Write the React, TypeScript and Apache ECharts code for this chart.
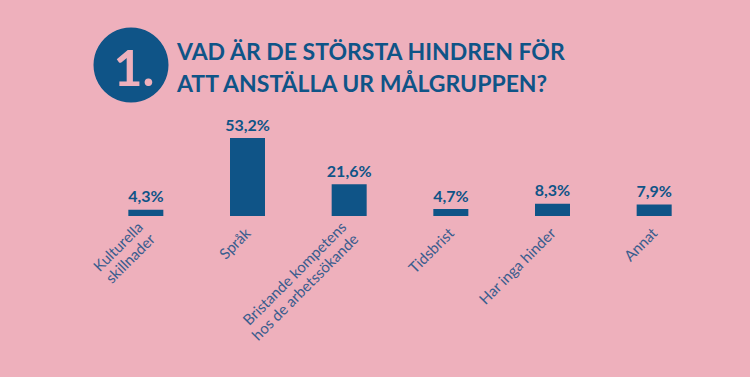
import React, { useEffect, useRef } from "react";
import * as echarts from "echarts";

const categories = [
  "Kulturella\nskillnader",
  "Språk",
  "Bristande kompetens\nhos de arbetssökande",
  "Tidsbrist",
  "Har inga hinder",
  "Annat",
];
const values = [4.3, 53.2, 21.6, 4.7, 8.3, 7.9];
const titleLines = ["VAD ÄR DE STÖRSTA HINDREN FÖR", "ATT ANSTÄLLA UR MÅLGRUPPEN?"];
const badge = "1.";

const BG = "#eeb0bc";
const DARK = "#0f5487";
const LABEL = "#3a5d8e";

export default function App() {
  const ref = useRef<HTMLDivElement>(null);
  useEffect(() => {
    if (!ref.current) return;
    const chart = echarts.init(ref.current, undefined, { renderer: "svg" });
    chart.setOption({
      animation: false,
      backgroundColor: BG,
      textStyle: { fontFamily: "Lato" },
      grid: { left: 95, right: 45, top: 138, bottom: 161, containLabel: false },
      xAxis: {
        type: "category",
        data: categories,
        axisLine: { show: false },
        axisTick: { show: false },
        axisLabel: {
          rotate: 45,
          interval: 0,
          margin: 14,
          color: LABEL,
          fontSize: 15,
          fontFamily: "Lato",
          lineHeight: 17,
        },
      },
      yAxis: {
        type: "value",
        min: 0,
        max: 53.2,
        show: false,
        splitLine: { show: false },
      },
      series: [
        {
          type: "bar",
          data: values,
          barWidth: 35,
          itemStyle: { color: DARK },
          label: {
            show: true,
            position: "top",
            distance: 6,
            color: DARK,
            fontSize: 16,
            fontWeight: "bold",
            fontFamily: "Lato",
            formatter: (p: any) => String(p.value).replace(".", ",") + "%",
          },
        },
      ],
      graphic: [
        {
          type: "circle",
          shape: { cx: 131, cy: 65, r: 37.5 },
          style: { fill: DARK },
        },
        {
          type: "text",
          x: 134,
          y: 67,
          style: {
            text: badge,
            fill: BG,
            fontSize: 50,
            fontWeight: "bold",
            fontFamily: "Lato",
            align: "center",
            verticalAlign: "middle",
          },
        },
        {
          type: "text",
          x: 177,
          y: 39,
          style: {
            text: titleLines[0],
            fill: DARK,
            fontSize: 23,
            fontWeight: "bold",
            fontFamily: "Lato",
          },
        },
        {
          type: "text",
          x: 177,
          y: 71,
          style: {
            text: titleLines[1],
            fill: DARK,
            fontSize: 23,
            fontWeight: "bold",
            fontFamily: "Lato",
          },
        },
      ],
    });
    return () => chart.dispose();
  }, []);
  return (
    <div
      ref={ref}
      style={{ position: "fixed", left: 0, top: 0, width: 750, height: 377 }}
    />
  );
}
